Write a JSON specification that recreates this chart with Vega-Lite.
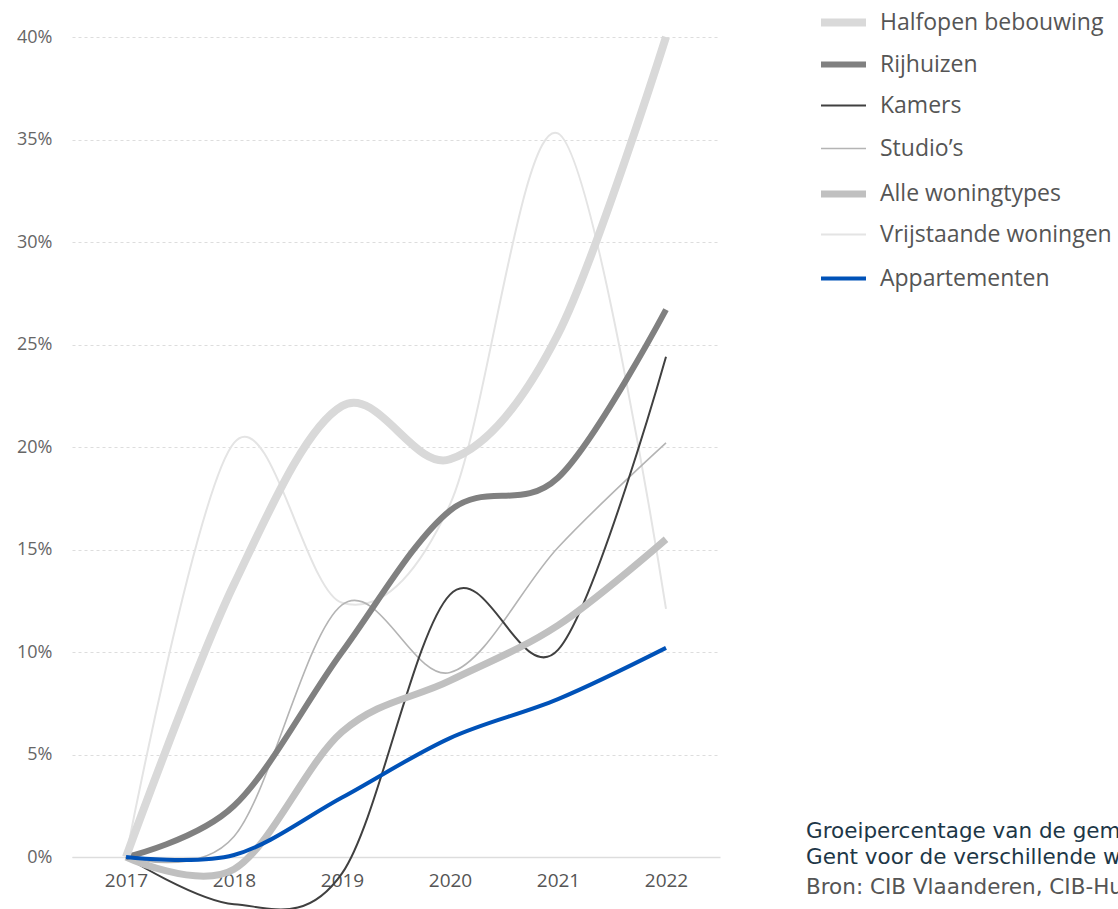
{
  "$schema": "https://vega.github.io/schema/vega-lite/v6.json",
  "width": 648,
  "height": 820,
  "autosize": {"type": "none"},
  "padding": {"left": 72, "top": 37, "right": 398, "bottom": 52},
  "background": "white",
  "title": {
    "text": ["Groeipercentage van de gemiddelde verkoopprijs in", "Gent voor de verschillende woningtypes"],
    "subtitle": "Bron: CIB Vlaanderen, CIB-Huurbarometer",
    "orient": "bottom",
    "anchor": "start",
    "frame": "group",
    "dx": 734,
    "dy": -96,
    "font": "DejaVu Sans",
    "fontSize": 21.5,
    "fontWeight": "normal",
    "color": "#1d3747",
    "lineHeight": 26,
    "subtitleFont": "DejaVu Sans",
    "subtitleFontSize": 21.5,
    "subtitleColor": "#555555",
    "subtitleLineHeight": 26,
    "subtitlePadding": 8
  },
  "data": {
    "values": [
      {"year": "2017", "type": "Halfopen bebouwing", "v": 0},
      {"year": "2018", "type": "Halfopen bebouwing", "v": 13.3},
      {"year": "2019", "type": "Halfopen bebouwing", "v": 22.0},
      {"year": "2020", "type": "Halfopen bebouwing", "v": 19.4},
      {"year": "2021", "type": "Halfopen bebouwing", "v": 25.5},
      {"year": "2022", "type": "Halfopen bebouwing", "v": 40.0},
      {"year": "2017", "type": "Rijhuizen", "v": 0},
      {"year": "2018", "type": "Rijhuizen", "v": 2.5},
      {"year": "2019", "type": "Rijhuizen", "v": 10.0},
      {"year": "2020", "type": "Rijhuizen", "v": 16.9},
      {"year": "2021", "type": "Rijhuizen", "v": 18.5},
      {"year": "2022", "type": "Rijhuizen", "v": 26.7},
      {"year": "2017", "type": "Kamers", "v": 0},
      {"year": "2018", "type": "Kamers", "v": -2.3},
      {"year": "2019", "type": "Kamers", "v": -0.8},
      {"year": "2020", "type": "Kamers", "v": 12.8},
      {"year": "2021", "type": "Kamers", "v": 10.1},
      {"year": "2022", "type": "Kamers", "v": 24.4},
      {"year": "2017", "type": "Studio’s", "v": 0},
      {"year": "2018", "type": "Studio’s", "v": 1.0},
      {"year": "2019", "type": "Studio’s", "v": 12.3},
      {"year": "2020", "type": "Studio’s", "v": 9.0},
      {"year": "2021", "type": "Studio’s", "v": 15.1},
      {"year": "2022", "type": "Studio’s", "v": 20.2},
      {"year": "2017", "type": "Alle woningtypes", "v": 0},
      {"year": "2018", "type": "Alle woningtypes", "v": -0.6},
      {"year": "2019", "type": "Alle woningtypes", "v": 6.1},
      {"year": "2020", "type": "Alle woningtypes", "v": 8.6},
      {"year": "2021", "type": "Alle woningtypes", "v": 11.3},
      {"year": "2022", "type": "Alle woningtypes", "v": 15.5},
      {"year": "2017", "type": "Vrijstaande woningen", "v": 0},
      {"year": "2018", "type": "Vrijstaande woningen", "v": 20.2},
      {"year": "2019", "type": "Vrijstaande woningen", "v": 12.4},
      {"year": "2020", "type": "Vrijstaande woningen", "v": 17.2},
      {"year": "2021", "type": "Vrijstaande woningen", "v": 35.3},
      {"year": "2022", "type": "Vrijstaande woningen", "v": 12.1},
      {"year": "2017", "type": "Appartementen", "v": 0},
      {"year": "2018", "type": "Appartementen", "v": 0.1},
      {"year": "2019", "type": "Appartementen", "v": 2.9},
      {"year": "2020", "type": "Appartementen", "v": 5.8},
      {"year": "2021", "type": "Appartementen", "v": 7.7},
      {"year": "2022", "type": "Appartementen", "v": 10.2}
    ]
  },
  "encoding": {
    "x": {
      "field": "year", "type": "ordinal",
      "scale": {"type": "point", "padding": 0.5},
      "axis": {"title": null, "labelAngle": 0, "ticks": false, "domainColor": "#dddddd", "domainWidth": 1.5, "labelColor": "#555555", "labelFontSize": 19, "labelFont": "Open Sans", "labelPadding": 14, "grid": false}
    },
    "y": {
      "field": "v", "type": "quantitative",
      "scale": {"domain": [0, 40], "nice": false, "zero": false},
      "axis": {"title": null, "values": [0, 5, 10, 15, 20, 25, 30, 35, 40], "labelExpr": "datum.value + '%'", "ticks": false, "domain": false, "grid": true, "gridColor": "#dddddd", "gridDash": [3, 3], "gridWidth": 1, "labelColor": "#666666", "labelFontSize": 18, "labelFont": "Open Sans", "labelPadding": 20}
    },
    "color": {
      "field": "type", "type": "nominal",
      "scale": {
        "domain": ["Halfopen bebouwing", "Rijhuizen", "Kamers", "Studio’s", "Alle woningtypes", "Vrijstaande woningen", "Appartementen"],
        "range": ["#d9d9d9", "#808080", "#404040", "#b4b4b4", "#c0c0c0", "#e4e4e4", "#0052b8"]
      },
      "legend": {
        "title": null, "orient": "none", "legendX": 745, "legendY": -41,
        "symbolType": "stroke", "symbolSize": 2025, "labelFontSize": 23, "labelFont": "Open Sans", "labelColor": "#555555",
        "rowPadding": -3, "gridAlign": "all", "labelOffset": 10, "padding": 0, "symbolOpacity": 1, "labelLimit": 400
      }
    },
    "strokeWidth": {
      "field": "type", "type": "nominal",
      "scale": {
        "type": "ordinal",
        "domain": ["Halfopen bebouwing", "Rijhuizen", "Kamers", "Studio’s", "Alle woningtypes", "Vrijstaande woningen", "Appartementen"],
        "range": [8, 6, 2, 1.6, 7, 2, 4]
      },
      "legend": null
    }
  },
  "layer": [
    {"transform": [{"filter": "datum.type === 'Vrijstaande woningen'"}], "mark": {"type": "line", "interpolate": "cardinal", "clip": false}},
    {"transform": [{"filter": "datum.type === 'Studio’s'"}], "mark": {"type": "line", "interpolate": "cardinal", "clip": false}},
    {"transform": [{"filter": "datum.type === 'Kamers'"}], "mark": {"type": "line", "interpolate": "cardinal", "clip": false}},
    {"transform": [{"filter": "datum.type === 'Alle woningtypes'"}], "mark": {"type": "line", "interpolate": "cardinal", "clip": false}},
    {"transform": [{"filter": "datum.type === 'Rijhuizen'"}], "mark": {"type": "line", "interpolate": "cardinal", "clip": false}},
    {"transform": [{"filter": "datum.type === 'Halfopen bebouwing'"}], "mark": {"type": "line", "interpolate": "cardinal", "clip": false}},
    {"transform": [{"filter": "datum.type === 'Appartementen'"}], "mark": {"type": "line", "interpolate": "cardinal", "clip": false}}
  ],
  "config": {"view": {"stroke": null}}
}
